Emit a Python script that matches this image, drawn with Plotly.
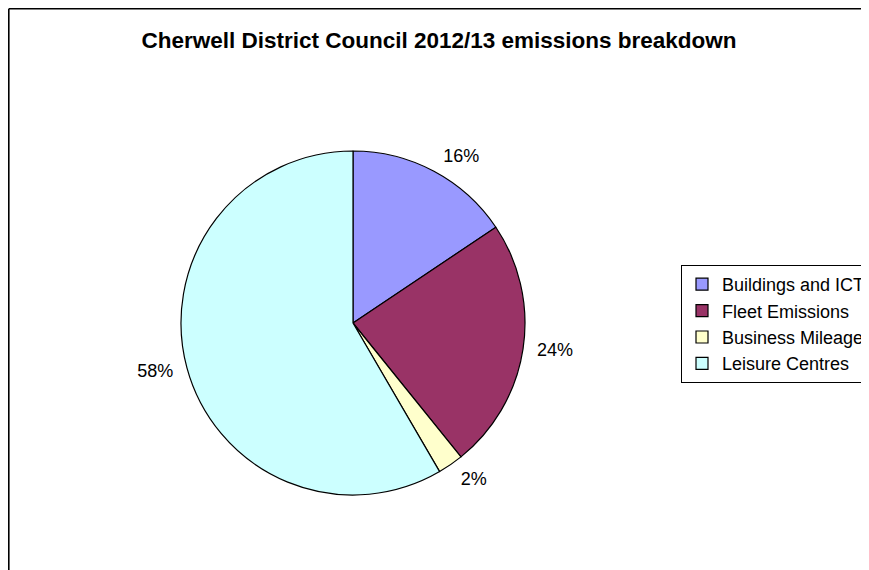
import plotly.graph_objects as go

title = "Cherwell District Council 2012/13 emissions breakdown"
categories = ["Buildings and ICT", "Fleet Emissions", "Business Mileage", "Leisure Centres"]
values = [15.6, 23.6, 2.4, 58.4]
colors = ["#9999FF", "#993366", "#FFFFCC", "#CCFFFF"]

W, H = 869, 570
cx, cy, r = 345, 315, 172
r_lab = r + 9
FONT = "Liberation Sans, Arial"


def dom(rad):
    return dict(x=[(cx - rad) / W, (cx + rad) / W], y=[1 - (cy + rad) / H, 1 - (cy - rad) / H])


fig = go.Figure()
# percentage labels, placed just outside a slightly larger invisible ring
fig.add_trace(go.Pie(
    labels=categories, values=values, sort=False, direction="clockwise", rotation=0,
    marker=dict(colors=["rgba(0,0,0,0)"] * 4, line=dict(width=0)),
    texttemplate="%{percent:.0%}", textposition="outside",
    textfont=dict(family=FONT, size=18, color="black"),
    hoverinfo="skip", showlegend=False, domain=dom(r_lab),
))
fig.add_trace(go.Pie(
    labels=categories, values=values, sort=False, direction="clockwise", rotation=0,
    marker=dict(colors=colors, line=dict(color="black", width=1.2)),
    textinfo="none",
    hoverinfo="label+percent", domain=dom(r),
))

fig.update_layout(
    width=W, height=H,
    margin=dict(l=0, r=0, t=0, b=0),
    paper_bgcolor="white",
    font=dict(family=FONT, color="black"),
    title=dict(text="<b>" + title + "</b>", x=431 / W, xanchor="center",
               y=1 - 32 / H, yanchor="middle",
               font=dict(size=22.5, family=FONT, color="black")),
    showlegend=True,
    legend=dict(x=673 / W, y=1 - 257 / H, xanchor="left", yanchor="top",
                bordercolor="black", borderwidth=1, bgcolor="white",
                font=dict(size=18, family=FONT, color="black"),
                tracegroupgap=0, itemwidth=30),
    shapes=[
        dict(type="line", xref="paper", yref="paper", x0=0.8 / W, x1=1.0, y0=1 - 0.8 / H, y1=1 - 0.8 / H,
             line=dict(color="black", width=1.6)),
        dict(type="line", xref="paper", yref="paper", x0=0.8 / W, x1=0.8 / W, y0=0, y1=1 - 0.8 / H,
             line=dict(color="black", width=1.6)),
    ],
)

fig.write_html("out.html", post_script="document.body.style.overflow='hidden';")
